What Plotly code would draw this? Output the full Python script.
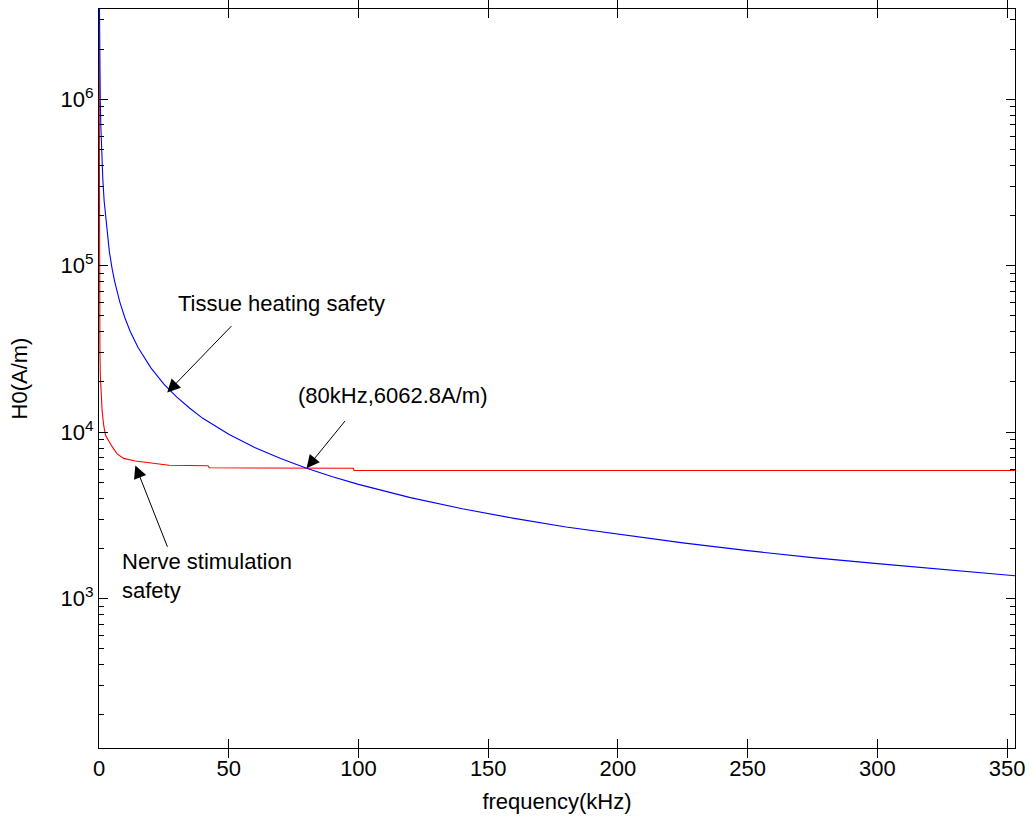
import plotly.graph_objects as go
import math

# ---- data ----
freq_heat = [0.1, 0.15, 0.2, 0.3, 0.4, 0.5, 0.7, 1, 1.5, 2, 3, 4, 5, 6, 8, 10, 12, 15, 20, 25,
             30, 35, 40, 50, 60, 70, 80, 90, 100, 120, 140, 160, 180, 200, 225, 250, 275, 300, 325, 353]
h_heat = [4.85e6, 3.23e6, 2.43e6, 1.62e6, 1.21e6, 9.7e5, 6.93e5, 4.85e5, 3.23e5, 2.43e5, 1.62e5,
          1.21e5, 9.7e4, 8.08e4, 6.06e4, 4.85e4, 4.04e4, 3.23e4, 2.43e4, 1.94e4, 1.62e4, 1.39e4,
          1.21e4, 9.7e3, 8.08e3, 6.93e3, 6.06e3, 5.39e3, 4.85e3, 4.04e3, 3.46e3, 3.03e3, 2.69e3,
          2.43e3, 2.16e3, 1.94e3, 1.76e3, 1.62e3, 1.49e3, 1.37e3]

freq_nerve = [0.002, 0.05, 0.1, 0.2, 0.35, 0.5, 0.8, 1.2, 1.8, 2.5, 3.5, 5, 7, 9.5, 14, 19, 27,
              42, 42.5, 98, 98.3, 353]
h_nerve = [4.5e6, 1.9e5, 1.0e5, 5.1e4, 3.2e4, 2.2e4, 1.6e4, 1.35e4, 1.1e4, 9.6e3, 9.0e3, 8.2e3,
           7.4e3, 6.95e3, 6.7e3, 6.55e3, 6.32e3, 6.28e3, 6.1e3, 6.063e3, 5.88e3, 5.88e3]

x_ticks = [0, 50, 100, 150, 200, 250, 300, 350]
y_major = [1e3, 1e4, 1e5, 1e6]
y_major_text = ["10<sup>3</sup>", "10<sup>4</sup>", "10<sup>5</sup>", "10<sup>6</sup>"]

x_range = [0, 353]
y_log_range = [2.102, 6.542]

# annotation anchors (data coordinates: x in kHz, y as value)
heat_label = (29.7, 10 ** 4.772)
heat_tip, heat_tail = (26.3, 10 ** 4.238), (51.6, 10 ** 4.646)
cross_label = (76.1, 10 ** 4.220)
cross_tip, cross_tail = (80.0, 6062.8), (95.3, 10 ** 4.076)
nerve_label = (7.9, 10 ** 3.134)
nerve_tip, nerve_tail = (14.0, 10 ** 3.800), (26.6, 10 ** 3.302)

FONT = "Liberation Sans, Arial, sans-serif"

fig = go.Figure()
fig.add_trace(go.Scatter(x=freq_nerve, y=h_nerve, mode="lines",
                         line=dict(color="#ff0000", width=1.1), showlegend=False))
fig.add_trace(go.Scatter(x=freq_heat, y=h_heat, mode="lines",
                         line=dict(color="#0000ff", width=1.1), showlegend=False))
# invisible helper trace so the minor-tick axis is drawn
fig.add_trace(go.Scatter(x=[x_range[0]], y=[y_major[0]], xaxis="x", yaxis="y2", mode="markers",
                         marker=dict(opacity=0), hoverinfo="skip", showlegend=False))

lg = math.log10
annos = []
for txt, (lx, ly) in [("Tissue heating safety", heat_label),
                      ("(80kHz,6062.8A/m)", cross_label),
                      ("Nerve stimulation<br>safety", nerve_label)]:
    annos.append(dict(x=lx, y=lg(ly), xref="x", yref="y", text=txt, showarrow=False,
                      xanchor="left", yanchor="middle", align="left",
                      font=dict(family=FONT, size=22, color="black")))
for (tx, ty), (sx, sy) in [(heat_tip, heat_tail), (cross_tip, cross_tail), (nerve_tip, nerve_tail)]:
    annos.append(dict(x=tx, y=lg(ty), xref="x", yref="y", ax=sx, ay=lg(sy), axref="x", ayref="y",
                      text="", showarrow=True, arrowhead=2, arrowsize=2.6, arrowwidth=1,
                      arrowcolor="black", standoff=0))

fig.update_layout(
    width=1034, height=821,
    margin=dict(l=99, r=16, t=8, b=73),
    paper_bgcolor="white", plot_bgcolor="white",
    font=dict(family=FONT, size=22, color="black"),
    annotations=annos,
    xaxis=dict(range=x_range, tickvals=x_ticks, ticks="inside", ticklen=9, tickcolor="black",
               showline=True, linecolor="black", linewidth=1.3, mirror="allticks",
               showgrid=False, zeroline=False,
               title=dict(text="frequency(kHz)", font=dict(size=22), standoff=14),
               tickfont=dict(size=22)),
    yaxis=dict(type="log", range=y_log_range, tickvals=y_major, ticktext=y_major_text,
               ticks="inside", ticklen=9, tickcolor="black",
               showline=True, linecolor="black", linewidth=1.3, mirror="allticks",
               showgrid=False, zeroline=False,
               title=dict(text="H0(A/m)", font=dict(size=22), standoff=26),
               tickfont=dict(size=22)),
    yaxis2=dict(type="log", range=y_log_range, overlaying="y", anchor="x", side="left",
                tickmode="linear", dtick="D1", ticks="inside", ticklen=5, tickwidth=1,
                tickcolor="black", showticklabels=False, showline=True, linecolor="black",
                linewidth=1.3, mirror="allticks", showgrid=False, zeroline=False),
)

fig.write_html("out.html")
